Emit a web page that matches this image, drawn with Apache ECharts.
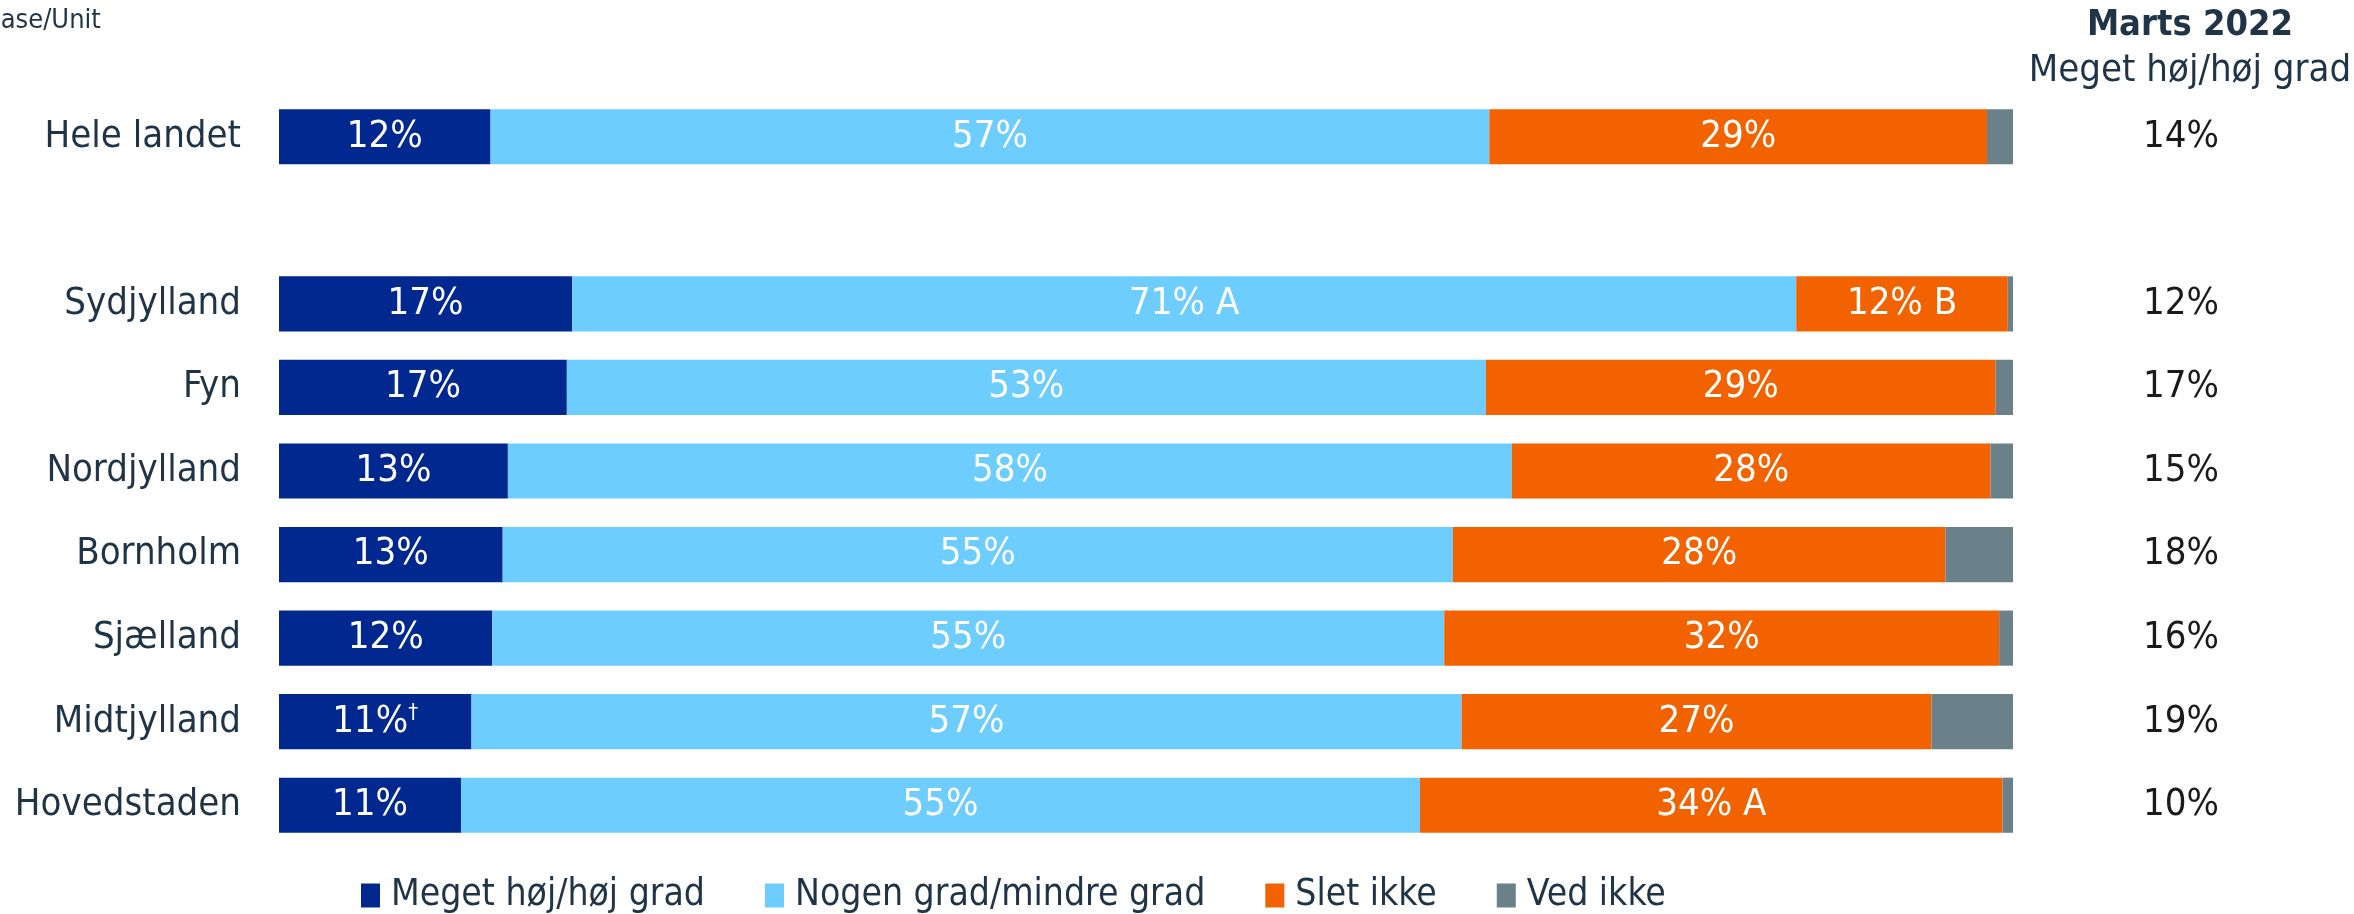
<!DOCTYPE html>
<html>
<head>
<meta charset="utf-8">
<script src="https://cdn.jsdelivr.net/npm/echarts@6/dist/echarts.min.js"></script>
<style>
  html, body { margin: 0; padding: 0; background: #fff; }
  #chart { width: 2354px; height: 914px; }
</style>
</head>
<body>
<div id="chart"></div>
<script>
// regioner, oppefra og ned (tom plads efter hele landet)
const regions = ['Hele landet', '', 'Sydjylland', 'Fyn', 'Nordjylland', 'Bornholm', 'Sjælland', 'Midtjylland', 'Hovedstaden']

// andele i procent
const meget = [12.2, null, 16.9, 16.6, 13.2, 12.9, 12.3, 11.1, 10.5]
const nogen = [57.6, null, 70.6, 53.0, 57.9, 54.8, 54.9, 57.1, 55.3]
const slet = [28.7, null, 12.2, 29.4, 27.6, 28.4, 32.0, 27.1, 33.6]
const vedIkke = [1.5, null, 0.3, 1.0, 1.3, 3.9, 0.8, 4.7, 0.6]

// tekster i søjlerne
const megetLabels = ['12%', '', '17%', '17%', '13%', '13%', '12%', '11%{sup|†}', '11%']
const nogenLabels = ['57%', '', '71% A', '53%', '58%', '55%', '55%', '57%', '55%']
const sletLabels = ['29%', '', '12% B', '29%', '28%', '28%', '32%', '27%', '34% A']

// kolonne til højre: Marts 2022, meget høj/høj grad
const marts2022 = ['14%', '', '12%', '17%', '15%', '18%', '16%', '19%', '10%']

const FONT = "'Liberation Sans Narrow', 'DejaVu Sans Condensed', Roboto, sans-serif"
const TEXT = '#1f3447'

const chart = echarts.init(document.getElementById('chart'))

function barSeries(name, data, labels, color) {
  return {
    name: name,
    type: 'bar',
    stack: 'total',
    data: data,
    barWidth: '66%',
    itemStyle: { color: color },
    label: {
      show: !!labels,
      position: 'inside',
      color: '#fff',
      fontFamily: FONT,
      fontSize: 38,
      formatter: p => (labels ? labels[p.dataIndex] : ''),
      rich: {
        sup: { fontSize: 22, color: '#fff', fontFamily: FONT, verticalAlign: 'top', padding: [0, 0, 14, 0] }
      }
    }
  }
}

const option = {
  animation: false,
  textStyle: { fontFamily: FONT },
  grid: { left: 279, right: 341, top: 95, height: 752 },
  xAxis: { type: 'value', min: 0, max: 100, show: false },
  yAxis: [
    {
      type: 'category',
      data: regions,
      inverse: true,
      axisLine: { show: false },
      axisTick: { show: false },
      axisLabel: { color: TEXT, fontSize: 38, fontFamily: FONT, margin: 38 }
    },
    {
      type: 'category',
      data: marts2022,
      inverse: true,
      position: 'right',
      axisLine: { show: false },
      axisTick: { show: false },
      axisLabel: { color: '#1a1a1a', fontSize: 38, fontFamily: FONT, align: 'center', margin: 168 }
    }
  ],
  legend: {
    left: 356,
    top: 872,
    itemWidth: 19,
    itemHeight: 24,
    itemGap: 60,
    icon: 'rect',
    textStyle: { color: TEXT, fontSize: 37, fontFamily: FONT, padding: [0, 0, 0, 6] },
    data: ['Meget høj/høj grad', 'Nogen grad/mindre grad', 'Slet ikke', 'Ved ikke']
  },
  graphic: [
    {
      type: 'text', left: -16, top: 7,
      style: { text: 'Base/Unit', fill: TEXT, fontSize: 27, fontFamily: FONT }
    },
    {
      type: 'text', x: 2190, y: 26,
      style: { text: 'Marts 2022', fill: TEXT, fontSize: 36, fontWeight: 'bold', fontFamily: FONT, align: 'center', verticalAlign: 'middle' }
    },
    {
      type: 'text', x: 2190, y: 71,
      style: { text: 'Meget høj/høj grad', fill: TEXT, fontSize: 38, fontFamily: FONT, align: 'center', verticalAlign: 'middle' }
    }
  ],
  series: [
    barSeries('Meget høj/høj grad', meget, megetLabels, '#00288f'),
    barSeries('Nogen grad/mindre grad', nogen, nogenLabels, '#6dcdff'),
    barSeries('Slet ikke', slet, sletLabels, '#f26300'),
    barSeries('Ved ikke', vedIkke, null, '#6b8189')
  ]
}

chart.setOption(option)
</script>
</body>
</html>
